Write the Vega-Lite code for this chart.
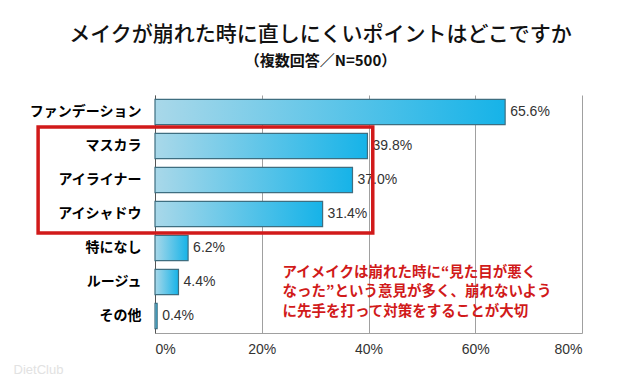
{
  "$schema": "https://vega.github.io/schema/vega-lite/v6.json",
  "autosize": {"type": "none"},
  "width": 427,
  "height": 238,
  "padding": {"left": 155, "top": 95, "right": 58, "bottom": 53},
  "background": "white",
  "config": {"view": {"stroke": null}, "font": "Noto Sans CJK JP"},
  "title": {
    "text": "メイクが崩れた時に直しにくいポイントはどこですか",
    "subtitle": "（複数回答／N=500）",
    "font": "Noto Sans CJK JP",
    "fontSize": 21,
    "fontWeight": 500,
    "color": "#111",
    "subtitleFont": "Noto Sans CJK JP",
    "subtitleFontSize": 15,
    "subtitleFontWeight": "bold",
    "subtitleColor": "#111",
    "subtitlePadding": 9,
    "anchor": "middle",
    "dx": -48,
    "offset": 26
  },
  "datasets": {
    "bars": [
      {"item": "ファンデーション", "pct": 65.6},
      {"item": "マスカラ", "pct": 39.8},
      {"item": "アイライナー", "pct": 37.0},
      {"item": "アイシャドウ", "pct": 31.4},
      {"item": "特になし", "pct": 6.2},
      {"item": "ルージュ", "pct": 4.4},
      {"item": "その他", "pct": 0.4}
    ],
    "box": [{"x1": -21.9, "x2": 40.8, "y1": 0.94, "y2": 4.06}],
    "note": [{"x": 23.9, "y": 5.23, "label": "アイメイクは崩れた時に“見た目が悪く\nなった”という意見が多く、崩れないよう\nに先手を打って対策をすることが大切"}],
    "mark": [{"x": -26.5, "y": 8.1, "label": "DietClub"}]
  },
  "layer": [
    {
      "data": {"name": "bars"},
      "encoding": {
        "y": {
          "field": "item", "type": "nominal", "sort": null,
          "scale": {"paddingInner": 0.26, "paddingOuter": 0.13},
          "axis": {
            "title": null, "ticks": false, "domain": true, "domainColor": "#555",
            "labelFontSize": 14, "labelFontWeight": "bold", "labelColor": "#000",
            "labelPadding": 14, "labelFont": "Noto Sans CJK JP"
          }
        },
        "x": {
          "field": "pct", "type": "quantitative",
          "scale": {"domain": [0, 80], "nice": false},
          "axis": {
            "title": null, "values": [0, 20, 40, 60, 80], "ticks": false,
            "grid": true, "gridColor": "#a0a0a0", "domainColor": "#a0a0a0",
            "labelFontSize": 14, "labelColor": "#333", "labelPadding": 9,
            "labelFont": "Liberation Sans",
            "labelExpr": "datum.value + '%'"
          }
        }
      },
      "layer": [
        {
          "mark": {
            "type": "bar",
            "stroke": "#3e6e80",
            "strokeWidth": 1.2,
            "color": {
              "gradient": "linear",
              "x1": 0, "y1": 0, "x2": 1, "y2": 0,
              "stops": [
                {"offset": 0, "color": "#a9d8e9"},
                {"offset": 1, "color": "#16b3e8"}
              ]
            }
          }
        },
        {
          "transform": [{"calculate": "format(datum.pct, '.1f') + '%'", "as": "lab"}],
          "mark": {"type": "text", "align": "left", "baseline": "middle", "dx": 5, "fontSize": 14, "font": "Liberation Sans", "color": "#333"},
          "encoding": {
            "text": {"field": "lab", "type": "nominal"}
          }
        }
      ]
    },
    {
      "data": {"name": "box"},
      "mark": {"type": "rect", "fill": null, "stroke": "#d11a1a", "strokeWidth": 3.5, "clip": false},
      "encoding": {
        "x": {"field": "x1", "type": "quantitative"},
        "x2": {"field": "x2"},
        "y": {"field": "y1", "type": "quantitative", "scale": {"domain": [0, 7], "reverse": true, "nice": false}, "axis": null},
        "y2": {"field": "y2"}
      }
    },
    {
      "data": {"name": "note"},
      "mark": {"type": "text", "align": "left", "baseline": "middle", "lineBreak": "\n", "lineHeight": 19.5, "fontSize": 14.5, "fontWeight": "bold", "color": "#d11a1a", "font": "Noto Sans CJK JP"},
      "encoding": {
        "x": {"field": "x", "type": "quantitative"},
        "y": {"field": "y", "type": "quantitative", "scale": {"domain": [0, 7], "reverse": true, "nice": false}, "axis": null},
        "text": {"field": "label"}
      }
    },
    {
      "data": {"name": "mark"},
      "mark": {"type": "text", "align": "left", "baseline": "middle", "fontSize": 13, "color": "#e2e2e2", "font": "Liberation Sans"},
      "encoding": {
        "x": {"field": "x", "type": "quantitative"},
        "y": {"field": "y", "type": "quantitative", "scale": {"domain": [0, 7], "reverse": true, "nice": false}, "axis": null},
        "text": {"field": "label"}
      }
    }
  ],
  "resolve": {"scale": {"y": "independent"}}
}
